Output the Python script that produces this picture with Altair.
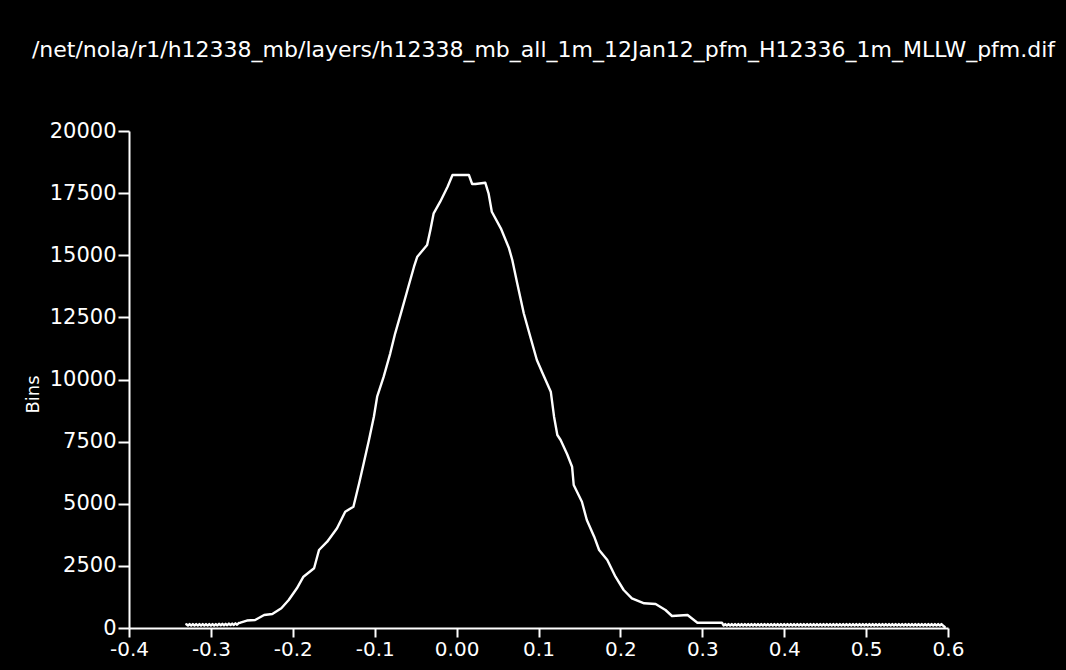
import altair as alt
import pandas as pd

TITLE = "/net/nola/r1/h12338_mb/layers/h12338_mb_all_1m_12Jan12_pfm_H12336_1m_MLLW_pfm.dif"
Y_TITLE = "Bins"
X_TICKS = [-0.4, -0.3, -0.2, -0.1, 0.0, 0.1, 0.2, 0.3, 0.4, 0.5, 0.6]
X_TICK_LABELS = ["-0.4", "-0.3", "-0.2", "-0.1", "0.00", "0.1", "0.2", "0.3", "0.4", "0.5", "0.6"]
Y_TICKS = [0, 2500, 5000, 7500, 10000, 12500, 15000, 17500, 20000]

# left tail (noisy low counts), bins every 0.002 from -0.330
left_tail_start = -0.330
left_tail_counts = [150, 100, 160, 100, 160, 100, 160, 100, 160, 100, 160, 100, 160, 100,
                    160, 100, 160, 100, 160, 100, 170, 110, 170, 110, 170, 110, 180, 120,
                    180, 120, 190, 130, 200]

# main body of the distribution
body_x = [-0.264, -0.256, -0.246, -0.235, -0.225, -0.214, -0.205, -0.195, -0.187,
          -0.174, -0.168, -0.158, -0.146, -0.136, -0.126, -0.119, -0.113, -0.107,
          -0.101, -0.097, -0.089, -0.081, -0.075, -0.068, -0.060, -0.052, -0.048,
          -0.036, -0.032, -0.028, -0.020, -0.011, -0.005, 0.015, 0.019, 0.023,
          0.035, 0.039, 0.043, 0.054, 0.064, 0.068, 0.074, 0.082, 0.090, 0.098,
          0.105, 0.115, 0.119, 0.123, 0.127, 0.135, 0.141, 0.143, 0.153, 0.159,
          0.168, 0.174, 0.184, 0.194, 0.204, 0.214, 0.229, 0.243, 0.255, 0.263,
          0.282, 0.294, 0.324]
body_counts = [213, 300, 322, 523, 563, 793, 1127, 1598, 2064,
               2402, 3139, 3473, 4012, 4680, 4881, 5823, 6692, 7565,
               8503, 9308, 10113, 11054, 11859, 12664, 13601, 14539, 14941,
               15412, 16016, 16688, 17155, 17758, 18229, 18229, 17867, 17867,
               17919, 17492, 16752, 16084, 15279, 14808, 13871, 12664, 11722, 10784,
               10249, 9509, 8503, 7766, 7565, 6990, 6491, 5754, 5082, 4346,
               3674, 3139, 2736, 2064, 1529, 1195, 994, 966, 724, 483,
               523, 213, 213]

# right tail (noisy low counts), bins every 0.002 from 0.326
right_tail_start = 0.326
right_tail_counts = [
    100, 160, 100, 160, 100, 160, 100, 160, 100, 160, 100, 160, 100, 160, 100, 160, 100,
    160, 100, 160, 100, 160, 100, 160, 100, 160, 100, 160, 100, 160, 100, 160, 100, 160,
    100, 160, 100, 160, 100, 160, 100, 160, 100, 160, 100, 160, 100, 160, 100, 160, 100,
    160, 100, 160, 100, 160, 100, 160, 100, 160, 100, 160, 100, 160, 100, 160, 100, 160,
    100, 160, 100, 160, 100, 160, 100, 160, 100, 160, 100, 160, 100, 160, 100, 160, 100,
    160, 100, 160, 100, 160, 100, 160, 100, 160, 100, 160, 100, 160, 100, 160, 100, 160,
    100, 160, 100, 160, 100, 160, 100, 160, 100, 160, 100, 160, 100, 160, 100, 160, 100,
    160, 100, 160, 100, 160, 100, 160, 100, 160, 100, 160, 100, 160, 100, 160, 100, 40]

left_x = [round(left_tail_start + 0.002 * i, 4) for i in range(len(left_tail_counts))]
right_x = [round(right_tail_start + 0.002 * i, 4) for i in range(len(right_tail_counts))]

df = pd.DataFrame({
    "x": left_x + body_x + right_x,
    "count": left_tail_counts + body_counts + right_tail_counts,
})
df["order"] = range(len(df))

label_array = "[" + ",".join("'" + s + "'" for s in X_TICK_LABELS) + "]"

chart = alt.Chart(df).mark_line(color="white", strokeWidth=2.4, strokeJoin="round",
                                strokeCap="round", interpolate="linear").encode(
    x=alt.X("x:Q", scale=alt.Scale(domain=[-0.4, 0.6], nice=False, zero=False),
            axis=alt.Axis(values=X_TICKS, title=None,
                          labelExpr=label_array + "[round(datum.value*10)+4]",
                          grid=False, domainColor="white", domainWidth=2,
                          tickColor="white", tickWidth=2, tickSize=9,
                          labelColor="white", labelFontSize=20, labelFont="DejaVu Sans",
                          labelPadding=2, labelFlush=False)),
    y=alt.Y("count:Q", scale=alt.Scale(domain=[0, 20000], nice=False),
            axis=alt.Axis(values=Y_TICKS, format="d", title=Y_TITLE,
                          grid=False, domainColor="white", domainWidth=2,
                          tickColor="white", tickWidth=2, tickSize=11,
                          labelColor="white", labelFontSize=21, labelFont="DejaVu Sans",
                          labelPadding=2, labelFlush=False,
                          titleColor="white", titleFont="DejaVu Sans", titleFontSize=18,
                          titleFontWeight="normal", titleAngle=270,
                          titleX=-96, titleY=263, titleBaseline="middle", titleAlign="center")),
    order="order:Q",
).properties(
    width=819,
    height=497,
    title=alt.TitleParams(TITLE, color="white", font="DejaVu Sans", fontSize=22,
                          fontWeight="normal", anchor="middle", dx=5, offset=58),
    background="black",
    padding={"left": 129, "top": 131, "right": 118, "bottom": 42},
    autosize=alt.AutoSizeParams(type="none"),
).configure_view(stroke=None)

chart.save("out.html", embed_options={"renderer": "svg", "actions": False})
